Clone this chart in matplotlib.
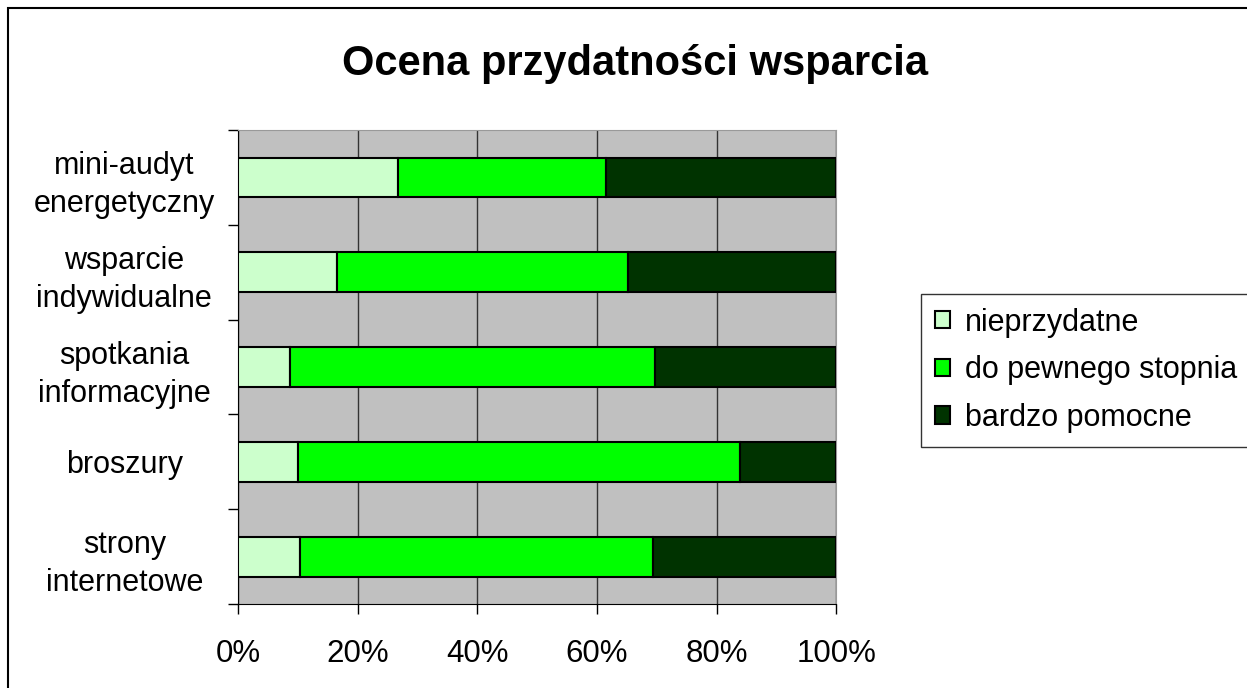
import matplotlib.pyplot as plt
import numpy as np
from matplotlib.patches import Rectangle

# data (percent of answers)
categories = ["mini-audyt\nenergetyczny", "wsparcie\nindywidualne", "spotkania\ninformacyjne",
              "broszury", "strony\ninternetowe"]
nieprzydatne = [26.8, 16.6, 8.7, 10.0, 10.4]
do_pewnego = [34.7, 48.6, 61.0, 73.9, 59.0]
bardzo = [38.5, 34.8, 30.3, 16.1, 30.6]
series_names = ["nieprzydatne", "do pewnego stopnia", "bardzo pomocne"]
colors = ["#CCFFCC", "#00FF00", "#003300"]

plt.rcParams['font.family'] = ['Liberation Sans', 'DejaVu Sans']

fig = plt.figure(figsize=(12.47, 6.88), dpi=100)
ax = fig.add_axes([0.1909, 0.1221, 0.4796, 0.6889])
ax.set_facecolor("#C0C0C0")

y = np.arange(len(categories))[::-1]
left = np.zeros(len(categories))
for vals, name, col in zip([nieprzydatne, do_pewnego, bardzo], series_names, colors):
    ax.barh(y, vals, left=left, height=0.42, color=col, edgecolor="black",
            linewidth=1.5, label=name, zorder=3)
    left += np.array(vals)

ax.set_xlim(0, 100)
ax.set_ylim(-0.5, len(categories) - 0.5)
ax.set_xticks(np.arange(0, 101, 20))
ax.set_xticklabels([f"{v}%" for v in range(0, 101, 20)], fontsize=22.5)
ax.set_yticks(y)
ax.set_yticklabels(categories, fontsize=22, linespacing=1.35)
ax.set_yticks(np.arange(-0.5, len(categories), 1), minor=True)
ax.tick_params(axis='y', which='major', length=0, pad=22)
ax.tick_params(axis='y', which='minor', length=7, width=1, direction='out')
ax.tick_params(axis='x', length=7, width=1, direction='out', pad=18)
for lab in ax.get_yticklabels():
    lab.set_horizontalalignment('center')
    lab.set_x(-0.139)
ax.grid(axis='x', color="#333333", linewidth=1, zorder=1)
for s in ["top", "right"]:
    ax.spines[s].set_color("#999999")
for s in ["left", "bottom"]:
    ax.spines[s].set_color("black")

fig.text(0.509, 0.907, "Ocena przydatności wsparcia", ha='center', va='center',
         fontsize=30, fontweight='bold')

leg = fig.legend(loc='upper left', bbox_to_anchor=(0.7385, 0.573), fontsize=22,
                 frameon=True, fancybox=False, edgecolor="black",
                 handlelength=0.5, handleheight=0.5, handletextpad=0.5,
                 labelspacing=0.58, borderpad=0.45, borderaxespad=0)
leg.get_frame().set_linewidth(1)
for h in leg.legend_handles:
    h.set_linewidth(1.5)

# outer chart border
fig.patches.append(Rectangle((8 / 1247, -0.1), 1.2, (688 - 8) / 688 + 0.1,
                             transform=fig.transFigure, fill=False,
                             edgecolor="black", linewidth=1.5))

fig.savefig("out.png", dpi=100)
